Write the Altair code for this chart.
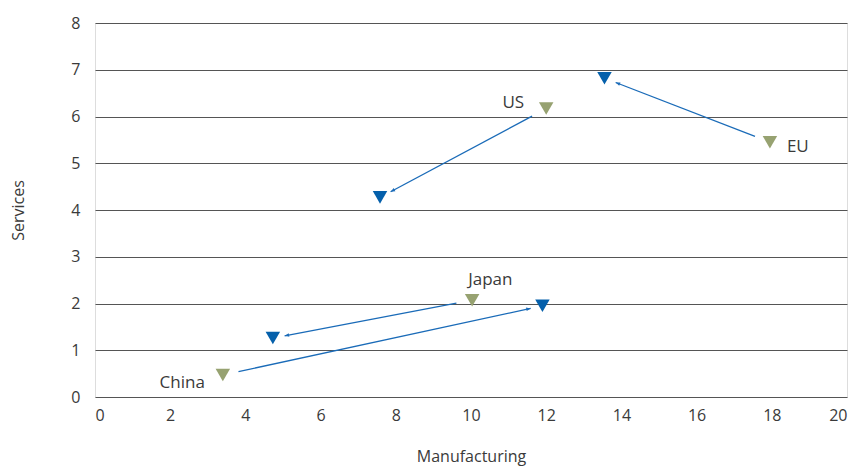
import math
import altair as alt
import pandas as pd

# Data
countries = ["US", "EU", "Japan", "China"]
start_manuf = [12.0, 17.95, 10.03, 3.4]
start_serv = [6.17, 5.45, 2.07, 0.47]
end_manuf = [7.58, 13.55, 4.73, 11.9]
end_serv = [4.27, 6.82, 1.26, 1.95]
label_dx = [-22, 17, -4, -18]
label_dy = [-6, 5, -20, 8]
label_align = ["right", "left", "left", "right"]

W, H = 752, 374
XMAX, YMAX = 20, 8
sx, sy = W / XMAX, H / YMAX

rows_pts = []
for i, c in enumerate(countries):
    rows_pts.append({"country": c, "x": start_manuf[i], "y": start_serv[i], "kind": "start"})
    rows_pts.append({"country": c, "x": end_manuf[i], "y": end_serv[i], "kind": "end"})
pts = pd.DataFrame(rows_pts)

arrows = []
for i, c in enumerate(countries):
    dxp = (end_manuf[i] - start_manuf[i]) * sx
    dyp = -(end_serv[i] - start_serv[i]) * sy
    L = math.hypot(dxp, dyp)
    t0 = 16 / L
    t1 = 1 - 12 / L
    x0 = start_manuf[i] + (end_manuf[i] - start_manuf[i]) * t0
    y0 = start_serv[i] + (end_serv[i] - start_serv[i]) * t0
    x1 = start_manuf[i] + (end_manuf[i] - start_manuf[i]) * t1
    y1 = start_serv[i] + (end_serv[i] - start_serv[i]) * t1
    ang = math.degrees(math.atan2(dyp, dxp)) % 360
    arrows.append({"country": c, "x0": x0, "y0": y0, "x1": x1, "y1": y1, "angle": ang})
arr = pd.DataFrame(arrows)

labels = pd.DataFrame({
    "country": countries, "x": start_manuf, "y": start_serv,
    "dx": label_dx, "dy": label_dy, "align": label_align,
})

FONT = "Open Sans"
xscale = alt.Scale(domain=[0, XMAX], nice=False)
yscale = alt.Scale(domain=[0, YMAX], nice=False)

xax = alt.Axis(values=list(range(0, 21, 2)), grid=False, domain=False, ticks=False,
               labelFont=FONT, labelFontSize=16, labelColor="#3a3a3a", labelPadding=10,
               title="Manufacturing", titleFont=FONT, titleFontSize=16,
               titleFontWeight="normal", titleColor="#3a3a3a", titlePadding=25)
yax = alt.Axis(values=list(range(0, 9)), grid=True, gridColor="#555", gridWidth=1,
               domain=False, ticks=False, labelFont=FONT, labelFontSize=16,
               labelColor="#3a3a3a", labelPadding=15,
               title="Services", titleFont=FONT, titleFontSize=16,
               titleFontWeight="normal", titleColor="#3a3a3a", titlePadding=44)

base = alt.Chart(pts)

points = base.mark_point(shape="triangle-down", filled=True, opacity=1, size=210).encode(
    x=alt.X("x:Q", scale=xscale, axis=xax),
    y=alt.Y("y:Q", scale=yscale, axis=yax),
    color=alt.Color("kind:N", scale=alt.Scale(domain=["start", "end"],
                                              range=["#97a271", "#0560ab"]), legend=None),
)

lines = alt.Chart(arr).mark_rule(color="#1a6bb8", strokeWidth=1.3).encode(
    x=alt.X("x0:Q", scale=xscale), y=alt.Y("y0:Q", scale=yscale),
    x2="x1:Q", y2="y1:Q",
)

heads = alt.Chart(arr).mark_point(
    shape="M0,0L-2,-0.8L-2,0.8Z", filled=True, opacity=1, color="#1a6bb8", size=20
).encode(
    x=alt.X("x1:Q", scale=xscale), y=alt.Y("y1:Q", scale=yscale),
    angle=alt.Angle("angle:Q", scale=None),
)

texts = []
for i, c in enumerate(countries):
    texts.append(
        alt.Chart(labels[labels.country == c]).mark_text(
            font=FONT, fontSize=17, color="#3a3a3a", align=label_align[i],
            dx=label_dx[i], dy=label_dy[i], baseline="middle"
        ).encode(x=alt.X("x:Q", scale=xscale), y=alt.Y("y:Q", scale=yscale), text="country:N")
    )

chart = alt.layer(points, lines, heads, *texts).properties(
    width=W, height=H,
    autosize=alt.AutoSizeParams(type="none"),
    padding={"left": 87, "top": 15, "right": 3, "bottom": 69},
).configure_view(stroke=None).configure(background="white")

chart.save("out.html", embed_options={"renderer": "svg", "actions": False})
